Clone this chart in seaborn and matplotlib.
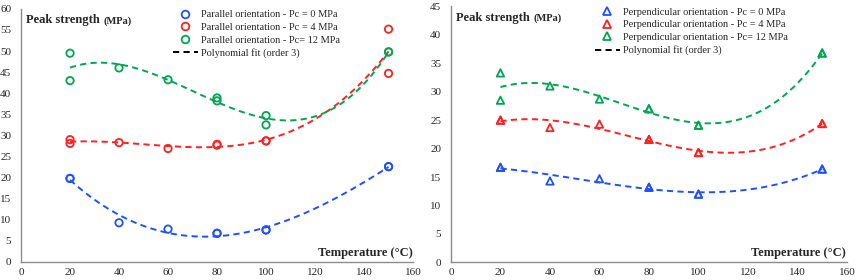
import matplotlib

matplotlib.use("Agg")
import matplotlib.pyplot as plt
import pandas as pd
import seaborn as sns
from matplotlib.lines import Line2D

# sıcaklık (°C) ve tepe dayanımı (MPa) okumaları
sicaklik = [20, 20, 40, 60, 80, 80, 100, 100, 150, 150]

paralel_pc0 = [19.8, 19.8, 9.3, 7.8, 6.8, 6.8, 7.6, 7.6, 22.6, 22.6]
paralel_pc4 = [29.0, 28.1, 28.3, 26.9, 27.9, 27.7, 28.7, 28.7, 55.2, 44.7]
paralel_pc12 = [49.5, 43.0, 46.0, 43.2, 38.9, 38.2, 34.7, 32.5, 49.8, 49.8]

dik_pc0 = [16.7, 16.7, 14.3, 14.7, 13.2, 13.2, 12.0, 12.0, 16.4, 16.4]
dik_pc4 = [25.0, 25.0, 23.7, 24.3, 21.6, 21.6, 19.3, 19.3, 24.4, 24.4]
dik_pc12 = [33.3, 28.5, 31.0, 28.7, 27.0, 27.0, 24.1, 24.1, 36.8, 36.8]

basinclar = ["Pc = 0 MPa", "Pc = 4 MPa", "Pc= 12 MPa"]
renkler = ["#2050ff", "#ff2020", "#00a650"]
CIZGI = (0, (3.2, 2.2))


def uzun_tablo(seriler):
    parcalar = []
    for ad, deger in zip(basinclar, seriler):
        parcalar.append(pd.DataFrame({"T": sicaklik, "sigma": deger, "Pc": ad}))
    return pd.concat(parcalar, ignore_index=True)


def panel_ciz(ax, df, marker, yonelim, ymax, leg_x):
    for ad, renk in zip(basinclar, renkler):
        alt = df[df["Pc"] == ad]
        sns.regplot(data=alt, x="T", y="sigma", order=3, ci=None, scatter=False,
                    truncate=True, ax=ax,
                    line_kws={"color": renk, "ls": CIZGI, "lw": 1.4})
        sns.scatterplot(data=alt, x="T", y="sigma", ax=ax, marker=marker, s=28,
                        facecolor="none", edgecolor=renk, linewidth=1.3, zorder=3)
    ax.set_xlim(0, 160)
    ax.set_ylim(0, ymax)
    ax.set_xticks(range(0, 161, 20))
    ax.set_yticks(range(0, ymax + 1, 5))
    ax.set_xlabel("")
    ax.set_ylabel("")
    for s in ["top", "right"]:
        ax.spines[s].set_visible(False)
    for s in ["left", "bottom"]:
        ax.spines[s].set_color("#8c8c8c")
        ax.spines[s].set_linewidth(1.0)
    ax.tick_params(axis="both", labelsize=8, color="#8c8c8c", length=3, width=1.0)
    ax.tick_params(axis="y", direction="out", pad=4)
    ax.tick_params(axis="x", direction="in", pad=4)

    baslik = ax.text(0.012, 0.955, "Peak strength", transform=ax.transAxes, fontsize=9,
                     fontweight="bold", va="center", ha="left")
    ax.annotate("(MPa)", xy=(1, 0.45), xycoords=baslik, xytext=(3, 0),
                textcoords="offset points", fontsize=7.5, fontweight="bold",
                va="center", ha="left")
    ax.text(0.998, 0.035, "Temperature (°C)", transform=ax.transAxes, fontsize=9,
            fontweight="bold", va="center", ha="right")

    tutacaklar = [Line2D([], [], ls="none", marker=marker, markersize=5.5,
                         markerfacecolor="none", markeredgecolor=r, markeredgewidth=1.3)
                  for r in renkler]
    tutacaklar.append(Line2D([], [], color="black", ls=CIZGI, lw=1.4))
    etiketler = [f"{yonelim} orientation - {b}" for b in basinclar] + ["Polynomial fit (order 3)"]
    ax.legend(tutacaklar, etiketler, loc="upper left", bbox_to_anchor=(leg_x, 0.995),
              frameon=False, fontsize=7.5, handlelength=2.4, handletextpad=0.3,
              labelspacing=0.32, borderpad=0, borderaxespad=0)


sns.set_theme(style="white")
plt.rcParams["font.family"] = ["Liberation Serif", "DejaVu Serif"]

fig = plt.figure(figsize=(8.58, 2.80), dpi=100)
ax1 = fig.add_axes([0.0245, 0.0643, 0.4569, 0.904])
ax2 = fig.add_axes([0.5256, 0.0630, 0.4615, 0.9145])

panel_ciz(ax1, uzun_tablo([paralel_pc0, paralel_pc4, paralel_pc12]), "o", "Parallel", 60, 0.387)
panel_ciz(ax2, uzun_tablo([dik_pc0, dik_pc4, dik_pc12]), "^", "Perpendicular", 45, 0.363)

fig.savefig("out.png", dpi=100)
